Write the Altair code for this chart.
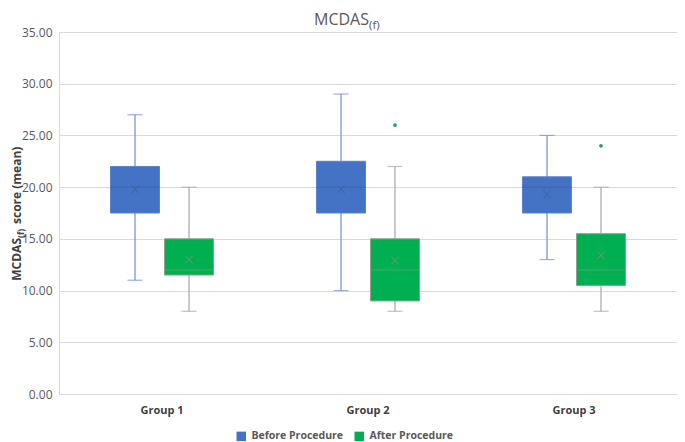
import altair as alt
import pandas as pd

groups = ["Group 1", "Group 2", "Group 3"]
series = ["Before Procedure", "After Procedure"]

before_min = [11, 10, 13]
before_q1 = [17.5, 17.5, 17.5]
before_median = [20, 20, 20]
before_q3 = [22, 22.5, 21]
before_max = [27, 29, 25]
before_mean = [19.8, 19.8, 19.3]

after_min = [8, 8, 8]
after_q1 = [11.5, 9, 10.5]
after_median = [12, 12, 12]
after_q3 = [15, 15, 15.5]
after_max = [20, 22, 20]
after_mean = [13.0, 12.9, 13.4]

outlier_groups = ["Group 2", "Group 3"]
outlier_values = [26, 24]

y_ticks = [0, 5, 10, 15, 20, 25, 30, 35]

FONT = "Open Sans"
BLUE = "#4472C4"
GREEN = "#00B050"

rows = []
for i, g in enumerate(groups):
    rows.append(dict(Group=g, Series=series[0], lo=before_min[i], q1=before_q1[i],
                     med=before_median[i], q3=before_q3[i], hi=before_max[i], mean=before_mean[i]))
    rows.append(dict(Group=g, Series=series[1], lo=after_min[i], q1=after_q1[i],
                     med=after_median[i], q3=after_q3[i], hi=after_max[i], mean=after_mean[i]))
df = pd.DataFrame(rows)
out_df = pd.DataFrame({"Group": outlier_groups, "Series": [series[1]] * len(outlier_groups),
                       "value": outlier_values})

is_before = alt.datum.Series == series[0]

x_enc = alt.X("Group:N", sort=groups,
              scale=alt.Scale(paddingInner=0, paddingOuter=0),
              axis=alt.Axis(title=None, labelAngle=0, domain=False, ticks=False,
                            labelFont=FONT, labelFontWeight="bold", labelFontSize=11,
                            labelColor="#404040", labelPadding=10))
xo_enc = alt.XOffset("Series:N", sort=series,
                     scale=alt.Scale(paddingInner=0.0926, paddingOuter=0.954))
y_scale = alt.Scale(domain=[0, 35], nice=False)
y_axis = alt.Axis(title=None, values=y_ticks, format=".2f", grid=True,
                  gridColor="#d9d9d9", domainColor="#d9d9d9", ticks=False,
                  labelPadding=7, labelFont=FONT, labelFontSize=12, labelColor="#595959")

base = alt.Chart(df)
whisker_color = alt.condition(is_before, alt.value("#6f8fd0"), alt.value("#a6a6a6"))

whisk = base.mark_rule(strokeWidth=1.2).encode(
    x=x_enc, xOffset=xo_enc,
    y=alt.Y("lo:Q", scale=y_scale, axis=y_axis), y2="hi:Q",
    color=whisker_color,
)
cap_lo = base.mark_tick(size=15, thickness=1.2).encode(
    x=x_enc, xOffset=xo_enc, y=alt.Y("lo:Q", scale=y_scale), color=whisker_color,
)
cap_hi = base.mark_tick(size=15, thickness=1.2).encode(
    x=x_enc, xOffset=xo_enc, y=alt.Y("hi:Q", scale=y_scale), color=whisker_color,
)
box = base.mark_bar(strokeWidth=1).encode(
    x=x_enc, xOffset=xo_enc,
    y=alt.Y("q1:Q", scale=y_scale), y2="q3:Q",
    color=alt.Color("Series:N", sort=series,
                    scale=alt.Scale(domain=series, range=[BLUE, GREEN]),
                    legend=alt.Legend(orient="none", legendX=177, legendY=399,
                                      direction="horizontal", title=None,
                                      symbolType="square", symbolSize=90,
                                      symbolStrokeWidth=0, symbolOpacity=1,
                                      labelFont=FONT, labelFontWeight="bold",
                                      labelFontSize=10.5, labelColor="#595959",
                                      columnPadding=10, labelOffset=5)),
    stroke=alt.condition(is_before, alt.value("#5b82cc"), alt.value("#8f9f8f")),
)
median = base.mark_tick(size=49, thickness=1.2).encode(
    x=x_enc, xOffset=xo_enc, y=alt.Y("med:Q", scale=y_scale),
    color=alt.condition(is_before, alt.value("#3e5f9e"), alt.value("#7f8f7f")),
)
mean = base.mark_point(shape="M -1 -1 L 1 1 M -1 1 L 1 -1", size=55, filled=False,
                       strokeWidth=1, opacity=1).encode(
    x=x_enc, xOffset=xo_enc, y=alt.Y("mean:Q", scale=y_scale),
    color=alt.condition(is_before, alt.value("#3e5f9e"), alt.value("#7f8f7f")),
)
outl = alt.Chart(out_df).mark_circle(size=14, opacity=1, color="#27a06c").encode(
    x=x_enc, xOffset=xo_enc, y=alt.Y("value:Q", scale=y_scale),
)

title_main = alt.Chart(pd.DataFrame({"t": ["MCDAS"]})).mark_text(
    align="right", baseline="alphabetic", font=FONT, fontSize=16, color="#595959"
).encode(text="t:N", x=alt.value(310), y=alt.value(-7))
title_sub = alt.Chart(pd.DataFrame({"t": ["(f)"]})).mark_text(
    align="left", baseline="alphabetic", font=FONT, fontSize=11.5, color="#595959"
).encode(text="t:N", x=alt.value(310), y=alt.value(-3))

yt_main = alt.Chart(pd.DataFrame({"t": ["MCDAS"]})).mark_text(
    align="right", baseline="alphabetic", angle=270, font=FONT, fontSize=12,
    fontWeight="bold", color="#404040"
).encode(text="t:N", x=alt.value(-38), y=alt.value(206))
yt_sub = alt.Chart(pd.DataFrame({"t": ["(f)"]})).mark_text(
    align="left", baseline="alphabetic", angle=270, font=FONT, fontSize=8.5,
    fontWeight="bold", color="#404040"
).encode(text="t:N", x=alt.value(-35), y=alt.value(206))
yt_rest = alt.Chart(pd.DataFrame({"t": ["score (mean)"]})).mark_text(
    align="left", baseline="alphabetic", angle=270, font=FONT, fontSize=12,
    fontWeight="bold", color="#404040"
).encode(text="t:N", x=alt.value(-38), y=alt.value(192))

chart = alt.layer(
    whisk, cap_lo, cap_hi, box, median, mean, outl,
    title_main, title_sub, yt_main, yt_sub, yt_rest
).properties(
    width=618, height=362,
    autosize=alt.AutoSizeParams(type="none"),
    padding={"left": 51, "top": 24, "right": 0, "bottom": 48},
).configure_view(stroke=None).configure(font=FONT)

chart.save("out.html", embed_options={"renderer": "svg", "actions": False})
